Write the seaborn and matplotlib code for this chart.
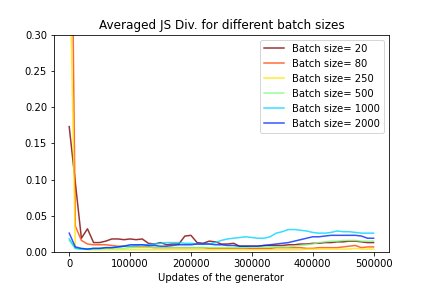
import numpy as np
import pandas as pd
import matplotlib
matplotlib.use("Agg")
import matplotlib.pyplot as plt
import seaborn as sns

# x axis: updates of the generator, one point every 10000 updates
updates = list(range(0, 500001, 10000))

batch_sizes = [20, 80, 250, 500, 1000, 2000]

js_bs20 = [0.173, 0.096, 0.019, 0.032, 0.013, 0.013, 0.015, 0.018, 0.018, 0.017,
           0.018, 0.017, 0.018, 0.012, 0.011, 0.013, 0.010, 0.011, 0.011, 0.022,
           0.023, 0.013, 0.012, 0.015, 0.014, 0.011, 0.011, 0.012, 0.008, 0.008,
           0.008, 0.008, 0.009, 0.009, 0.009, 0.009, 0.010, 0.010, 0.011, 0.011,
           0.012, 0.012, 0.013, 0.013, 0.014, 0.014, 0.015, 0.015, 0.014, 0.013,
           0.013]
js_bs80 = [0.79, 0.036, 0.016, 0.011, 0.010, 0.010, 0.010, 0.009, 0.008, 0.008,
           0.007, 0.007, 0.007, 0.007, 0.006, 0.006, 0.006, 0.006, 0.006, 0.006,
           0.006, 0.006, 0.006, 0.005, 0.005, 0.005, 0.005, 0.005, 0.005, 0.005,
           0.005, 0.005, 0.005, 0.005, 0.006, 0.006, 0.006, 0.006, 0.006, 0.005,
           0.005, 0.006, 0.006, 0.006, 0.006, 0.007, 0.008, 0.009, 0.006, 0.007,
           0.007]
js_bs250 = [0.445, 0.005, 0.004, 0.003, 0.003, 0.003, 0.003, 0.003, 0.003, 0.003,
            0.003, 0.003, 0.003, 0.003, 0.003, 0.003, 0.003, 0.003, 0.003, 0.003,
            0.003, 0.003, 0.003, 0.003, 0.003, 0.003, 0.003, 0.003, 0.003, 0.003,
            0.003, 0.003, 0.003, 0.003, 0.003, 0.003, 0.003, 0.003, 0.003, 0.004,
            0.004, 0.004, 0.004, 0.004, 0.004, 0.004, 0.004, 0.005, 0.004, 0.004,
            0.004]
js_bs500 = [0.016, 0.005, 0.004, 0.004, 0.004, 0.004, 0.005, 0.005, 0.005, 0.005,
            0.006, 0.006, 0.006, 0.006, 0.006, 0.006, 0.006, 0.006, 0.006, 0.006,
            0.006, 0.006, 0.006, 0.006, 0.006, 0.006, 0.006, 0.006, 0.006, 0.006,
            0.007, 0.007, 0.007, 0.007, 0.007, 0.007, 0.007, 0.008, 0.009, 0.010,
            0.011, 0.013, 0.014, 0.015, 0.015, 0.016, 0.016, 0.016, 0.015, 0.015,
            0.015]
js_bs1000 = [0.018, 0.005, 0.004, 0.004, 0.005, 0.005, 0.006, 0.006, 0.007, 0.008,
             0.008, 0.009, 0.010, 0.010, 0.011, 0.012, 0.013, 0.013, 0.013, 0.012,
             0.012, 0.011, 0.011, 0.011, 0.013, 0.016, 0.018, 0.019, 0.020, 0.021,
             0.020, 0.019, 0.019, 0.021, 0.026, 0.028, 0.031, 0.031, 0.030, 0.029,
             0.027, 0.026, 0.026, 0.027, 0.029, 0.028, 0.028, 0.027, 0.026, 0.026,
             0.026]
js_bs2000 = [0.026, 0.007, 0.005, 0.004, 0.005, 0.005, 0.006, 0.006, 0.007, 0.008,
             0.010, 0.010, 0.010, 0.009, 0.009, 0.008, 0.008, 0.009, 0.010, 0.010,
             0.010, 0.011, 0.011, 0.011, 0.010, 0.010, 0.009, 0.009, 0.008, 0.008,
             0.008, 0.008, 0.009, 0.010, 0.011, 0.012, 0.013, 0.015, 0.017, 0.019,
             0.021, 0.021, 0.022, 0.023, 0.023, 0.023, 0.023, 0.023, 0.022, 0.019,
             0.019]

series = [js_bs20, js_bs80, js_bs250, js_bs500, js_bs1000, js_bs2000]
labels = [f"Batch size= {b}" for b in batch_sizes]

# long-form table for seaborn
frames = []
for lab, vals in zip(labels, series):
    frames.append(pd.DataFrame({"updates": updates, "js": vals, "batch": lab}))
df = pd.concat(frames, ignore_index=True)

# jet colours, evenly spaced from dark red down to blue
colors = [plt.cm.jet(k / 6) for k in range(6, 0, -1)]

fig, ax = plt.subplots(figsize=(6, 4), dpi=72)
sns.lineplot(data=df, x="updates", y="js", hue="batch", hue_order=labels,
             palette=colors, linewidth=1.5, alpha=0.8, ax=ax)

ax.set_ylim(0, 0.3)
ax.set_title("Averaged JS Div. for different batch sizes")
ax.set_xlabel("Updates of the generator")
ax.set_ylabel("")
handles, labs = ax.get_legend_handles_labels()
ax.legend(handles, labs, loc="upper right")

plt.subplots_adjust(bottom=0.125)
plt.savefig("out.png", dpi=72)
